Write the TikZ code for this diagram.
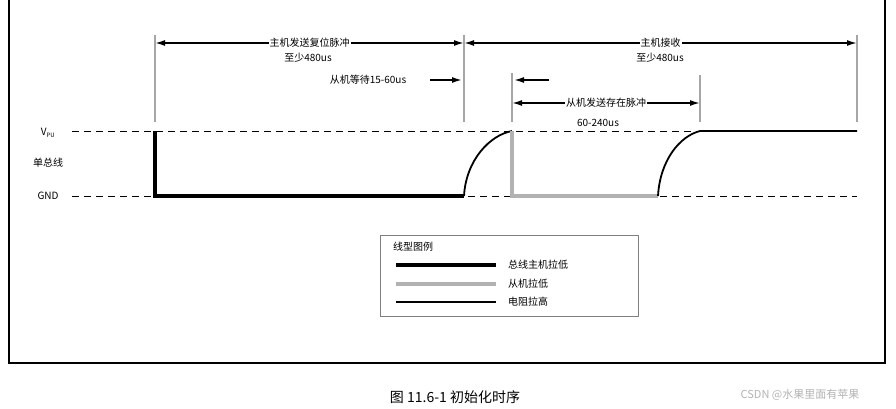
\documentclass[tikz,border=0pt]{standalone}
\usepackage{fontspec}
\setmainfont{Noto Sans CJK SC}
\usetikzlibrary{arrows.meta}
\tikzset{
  guide/.style={color=gray!70, line width=1.3pt},
  dim/.style={{Latex[length=10pt,width=6pt]}-{Latex[length=10pt,width=6pt]}, line width=1.6pt},
  level/.style={dashed, dash pattern=on 7pt off 5pt, line width=0.9pt},
  lbl/.style={font=\fontsize{10}{11}\selectfont, fill=white, inner sep=1pt},
  master/.style={line width=3.6pt},
  slave/.style={line width=3.6pt, color=gray!60},
  pullup/.style={line width=1.8pt}
}
\begin{document}
\begin{tikzpicture}[x=1pt, y=-1pt]
    \useasboundingbox (0,0) rectangle (896,408);
    % frame
    \draw[line width=2.5pt] (9,-2) rectangle (885,363);

    % guide lines
    \foreach \gx/\gy in {155/35, 464/35, 512/73, 700/75, 857/35}
        \draw[guide] (\gx, \gy) -- (\gx, 122);

    % levels
    \draw[level] (72, 131) -- (857, 131);
    \draw[level] (72, 196) -- (857, 196);
    \node (vpu) at (48, 133) {\fontsize{10}{11}\selectfont V\textsubscript{\fontsize{6}{7}\selectfont PU}};
    \node[lbl] (bus) at (48, 163) {单总线};
    \node[lbl] (gnd) at (48, 196) {GND};

    % dimension arrows
    \coordinate (r0) at (155, 43);
    \coordinate (r1) at (464, 43);
    \coordinate (r2) at (857, 43);
    \draw[dim] (r0) -- (r1) node[midway, lbl] (reset) {主机发送复位脉冲};
    \draw[dim] (r1) -- (r2) node[midway, lbl] (recv) {主机接收};
    \node[lbl] (min1) at (308, 58) {至少480us};
    \node[lbl] (min2) at (660, 58) {至少480us};
    \node[lbl] (wait) at (368, 80) {从机等待15-60us};
    \coordinate (w0) at (430, 80);
    \coordinate (w1) at (462, 80);
    \draw[-{Latex[length=10pt,width=6pt]}, line width=1.6pt] (w0) -- (w1);
    \coordinate (s0) at (549, 80);
    \coordinate (s1) at (514, 80);
    \draw[-{Latex[length=10pt,width=6pt]}, line width=1.6pt] (s0) -- (s1);
    \coordinate (p0) at (512, 103);
    \coordinate (p1) at (700, 103);
    \draw[dim] (p0) -- (p1) node[midway, lbl] (presence) {从机发送存在脉冲};
    \node[lbl] (dur) at (598, 123) {60-240us};

    % waveform
    \draw[master] (155, 131) -- (155, 196) -- (464, 196);
    \draw[pullup] (464, 196) .. controls (466, 160) and (490, 135) .. (512, 131);
    \draw[slave] (512, 131) -- (512, 196) -- (658, 196);
    \draw[pullup] (658, 196) .. controls (660, 160) and (680, 136) .. (700, 131) -- (857, 131);

    % legend
    \draw[color=gray, line width=1pt] (380, 235) rectangle (638, 316);
    \node[lbl, anchor=west] (legend) at (392, 247) {线型图例};
    \draw[master] (396, 265) -- (496, 265);
    \node[lbl, anchor=west] (lmaster) at (507, 265) {总线主机拉低};
    \draw[slave] (396, 284) -- (496, 284);
    \node[lbl, anchor=west] (lslave) at (507, 284) {从机拉低};
    \draw[pullup] (396, 302) -- (496, 302);
    \node[lbl, anchor=west] (lpull) at (507, 302) {电阻拉高};

    % caption
    \node[font=\fontsize{14}{16}\selectfont] (caption) at (455, 397) {图 11.6-1 初始化时序};
    \node[font=\fontsize{11}{13}\selectfont, text=gray!60] (mark) at (800, 395) {CSDN @水果里面有苹果};
\end{tikzpicture}
\end{document}
